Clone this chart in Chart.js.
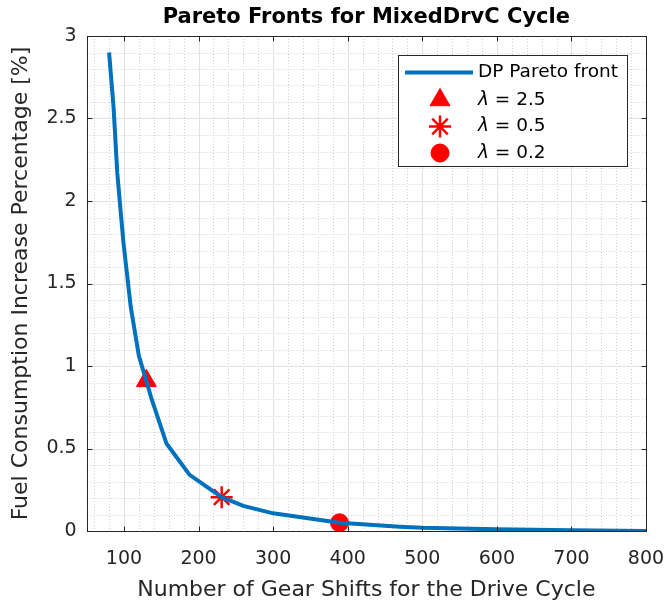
<!DOCTYPE html>
<html>
<head>
<meta charset="utf-8">
<script src="https://cdn.jsdelivr.net/npm/chart.js"></script>
<style>
  body { margin: 0; background: #fff; }
  #wrap { width: 665px; height: 601px; position: relative; }
</style>
</head>
<body>
<div id="wrap"><canvas id="chart"></canvas></div>
<script>
// Pareto front
const gearShifts   = [80, 86, 91, 99, 109, 120, 130, 137, 157, 188, 231, 260, 300, 389, 470, 500, 600, 700, 800];
const fuelIncrease = [2.9, 2.57, 2.17, 1.76, 1.36, 1.06, 0.91, 0.8, 0.53, 0.34, 0.205, 0.152, 0.107, 0.05, 0.026, 0.02, 0.01, 0.004, 0.0];

// selected lambda points
const lambdaLabels = ['2.5', '0.5', '0.2'];
const lambdaShifts = [130, 231, 389];
const lambdaFuel   = [0.91, 0.205, 0.05];
const lambdaStyles = ['triangle', 'star', 'circle'];

const xTickValues = [100, 200, 300, 400, 500, 600, 700, 800];
const yTickValues = [0, 0.5, 1, 1.5, 2, 2.5, 3];

const TITLE = 'Pareto Fronts for MixedDrvC Cycle';
const FONT = 'DejaVu Sans';
const AXIS_COLOR = '#262626';
const RED = '#ff0000';
const BLUE = '#0072bd';

const markerOpts = [
  { pointStyle: 'triangle', radius: 11.5, borderWidth: 1 },
  { pointStyle: 'star', radius: 11, borderWidth: 2.5 },
  { pointStyle: 'circle', radius: 9, borderWidth: 1 }
];

// grid (major + dotted minor), box, inward ticks, title and legend like the matlab axes
const axesPlugin = {
  id: 'axesBox',
  beforeDatasetsDraw(chart) {
    const { ctx, chartArea: a, scales: { x, y } } = chart;
    ctx.save();
    ctx.lineWidth = 1;
    // minor
    ctx.strokeStyle = '#d0d0d0';
    ctx.setLineDash([1, 2]);
    for (let v = 60; v < 800; v += 20) {
      if (v % 100 === 0) continue;
      const px = Math.round(x.getPixelForValue(v)) + 0.5;
      ctx.beginPath(); ctx.moveTo(px, a.top); ctx.lineTo(px, a.bottom); ctx.stroke();
    }
    for (let i = 1; i < 30; i++) {
      if (i % 5 === 0) continue;
      const py = Math.round(y.getPixelForValue(i / 10)) + 0.5;
      ctx.beginPath(); ctx.moveTo(a.left, py); ctx.lineTo(a.right, py); ctx.stroke();
    }
    // major
    ctx.setLineDash([]);
    ctx.strokeStyle = '#e2e2e2';
    xTickValues.forEach(v => {
      const px = Math.round(x.getPixelForValue(v)) + 0.5;
      ctx.beginPath(); ctx.moveTo(px, a.top); ctx.lineTo(px, a.bottom); ctx.stroke();
    });
    yTickValues.forEach(v => {
      const py = Math.round(y.getPixelForValue(v)) + 0.5;
      ctx.beginPath(); ctx.moveTo(a.left, py); ctx.lineTo(a.right, py); ctx.stroke();
    });
    ctx.restore();
  },
  afterDatasetsDraw(chart) {
    const { ctx, chartArea: a, scales: { x, y } } = chart;
    ctx.save();
    ctx.strokeStyle = AXIS_COLOR;
    ctx.lineWidth = 1;
    const L = Math.round(a.left) + 0.5, R = Math.round(a.right) + 0.5;
    const T = Math.round(a.top) + 0.5, B = Math.round(a.bottom) + 0.5;
    ctx.strokeRect(L, T, R - L, B - T);
    const tl = 5;
    xTickValues.forEach(v => {
      const px = Math.round(x.getPixelForValue(v)) + 0.5;
      ctx.beginPath();
      ctx.moveTo(px, B); ctx.lineTo(px, B - tl);
      ctx.moveTo(px, T); ctx.lineTo(px, T + tl);
      ctx.stroke();
    });
    yTickValues.forEach(v => {
      const py = Math.round(y.getPixelForValue(v)) + 0.5;
      ctx.beginPath();
      ctx.moveTo(L, py); ctx.lineTo(L + tl, py);
      ctx.moveTo(R, py); ctx.lineTo(R - tl, py);
      ctx.stroke();
    });
    ctx.restore();
  },
  afterDraw(chart) {
    const { ctx, chartArea: a } = chart;
    ctx.save();
    // title centred over the axes
    ctx.fillStyle = '#000';
    ctx.textAlign = 'center';
    ctx.textBaseline = 'middle';
    ctx.font = 'bold 21px "' + FONT + '"';
    ctx.fillText(TITLE, (a.left + a.right) / 2, 17.5);

    // legend box in the upper right of the axes
    const bx = 398.5, by = 55.5, bw = 229, bh = 111;
    ctx.textAlign = 'left';
    ctx.fillStyle = '#fff';
    ctx.fillRect(bx, by, bw, bh);
    ctx.strokeStyle = AXIS_COLOR;
    ctx.lineWidth = 1;
    ctx.strokeRect(bx, by, bw, bh);

    const rowY = [72.5, 100, 126.5, 153];
    const textX = 478;
    ctx.strokeStyle = BLUE;
    ctx.lineWidth = 4;
    ctx.beginPath(); ctx.moveTo(405, rowY[0]); ctx.lineTo(473, rowY[0]); ctx.stroke();

    ctx.fillStyle = '#000';
    ctx.font = '18.5px "' + FONT + '"';
    ctx.fillText('DP Pareto front', textX, rowY[0]);

    lambdaLabels.forEach((lab, i) => {
      const yy = rowY[i + 1];
      ctx.fillStyle = RED;
      ctx.strokeStyle = RED;
      ctx.lineWidth = markerOpts[i].borderWidth;
      Chart.helpers.drawPoint(ctx, markerOpts[i], 440, yy);
      ctx.fillStyle = '#000';
      ctx.font = 'italic 18.5px "' + FONT + '"';
      ctx.fillText('λ', textX, yy);
      const w = ctx.measureText('λ').width;
      ctx.font = '18.5px "' + FONT + '"';
      ctx.fillText(' = ' + lab, textX + w, yy);
    });
    ctx.restore();
  }
};

const markerSets = lambdaLabels.map((lab, i) => ({
  type: 'scatter',
  label: 'λ = ' + lab,
  data: [{ x: lambdaShifts[i], y: lambdaFuel[i] }],
  pointStyle: lambdaStyles[i],
  pointRadius: markerOpts[i].radius,
  pointBorderWidth: markerOpts[i].borderWidth,
  backgroundColor: RED,
  borderColor: RED
}));

new Chart(document.getElementById('chart'), {
  type: 'line',
  data: {
    datasets: [{
      label: 'DP Pareto front',
      data: gearShifts.map((g, i) => ({ x: g, y: fuelIncrease[i] })),
      borderColor: BLUE,
      borderWidth: 4,
      pointRadius: 0,
      tension: 0,
      fill: false
    }, ...markerSets]
  },
  options: {
    responsive: true,
    maintainAspectRatio: false,
    animation: false,
    layout: { padding: { left: 0, right: 19, top: 36, bottom: 0 } },
    plugins: {
      legend: { display: false },
      tooltip: { enabled: false },
      title: { display: false }
    },
    scales: {
      x: {
        type: 'linear',
        min: 50,
        max: 800,
        afterBuildTicks: s => { s.ticks = xTickValues.map(v => ({ value: v })); },
        afterFit: s => { s.height = 70; s.paddingLeft = 0; s.paddingRight = 0; },
        ticks: {
          color: AXIS_COLOR,
          font: { family: FONT, size: 19 },
          padding: 17,
          maxRotation: 0,
          autoSkip: false,
          callback: v => String(v)
        },
        grid: { display: false, drawTicks: false },
        border: { display: false },
        title: {
          display: true,
          text: 'Number of Gear Shifts for the Drive Cycle',
          color: AXIS_COLOR,
          font: { family: FONT, size: 22, lineHeight: 1 },
          padding: { top: 0, bottom: 0 }
        }
      },
      y: {
        type: 'linear',
        min: 0,
        max: 3,
        afterBuildTicks: s => { s.ticks = yTickValues.map(v => ({ value: v })); },
        afterFit: s => { s.width = 86.7; s.paddingTop = 0; s.paddingBottom = 0; },
        ticks: {
          color: AXIS_COLOR,
          font: { family: FONT, size: 19 },
          padding: 10,
          autoSkip: false,
          callback: v => String(v)
        },
        grid: { display: false, drawTicks: false },
        border: { display: false },
        title: {
          display: true,
          text: 'Fuel Consumption Increase Percentage [%]',
          color: AXIS_COLOR,
          font: { family: FONT, size: 22, lineHeight: 1.2 },
          padding: { top: 8, bottom: 0 }
        }
      }
    }
  },
  plugins: [axesPlugin]
});
</script>
</body>
</html>
